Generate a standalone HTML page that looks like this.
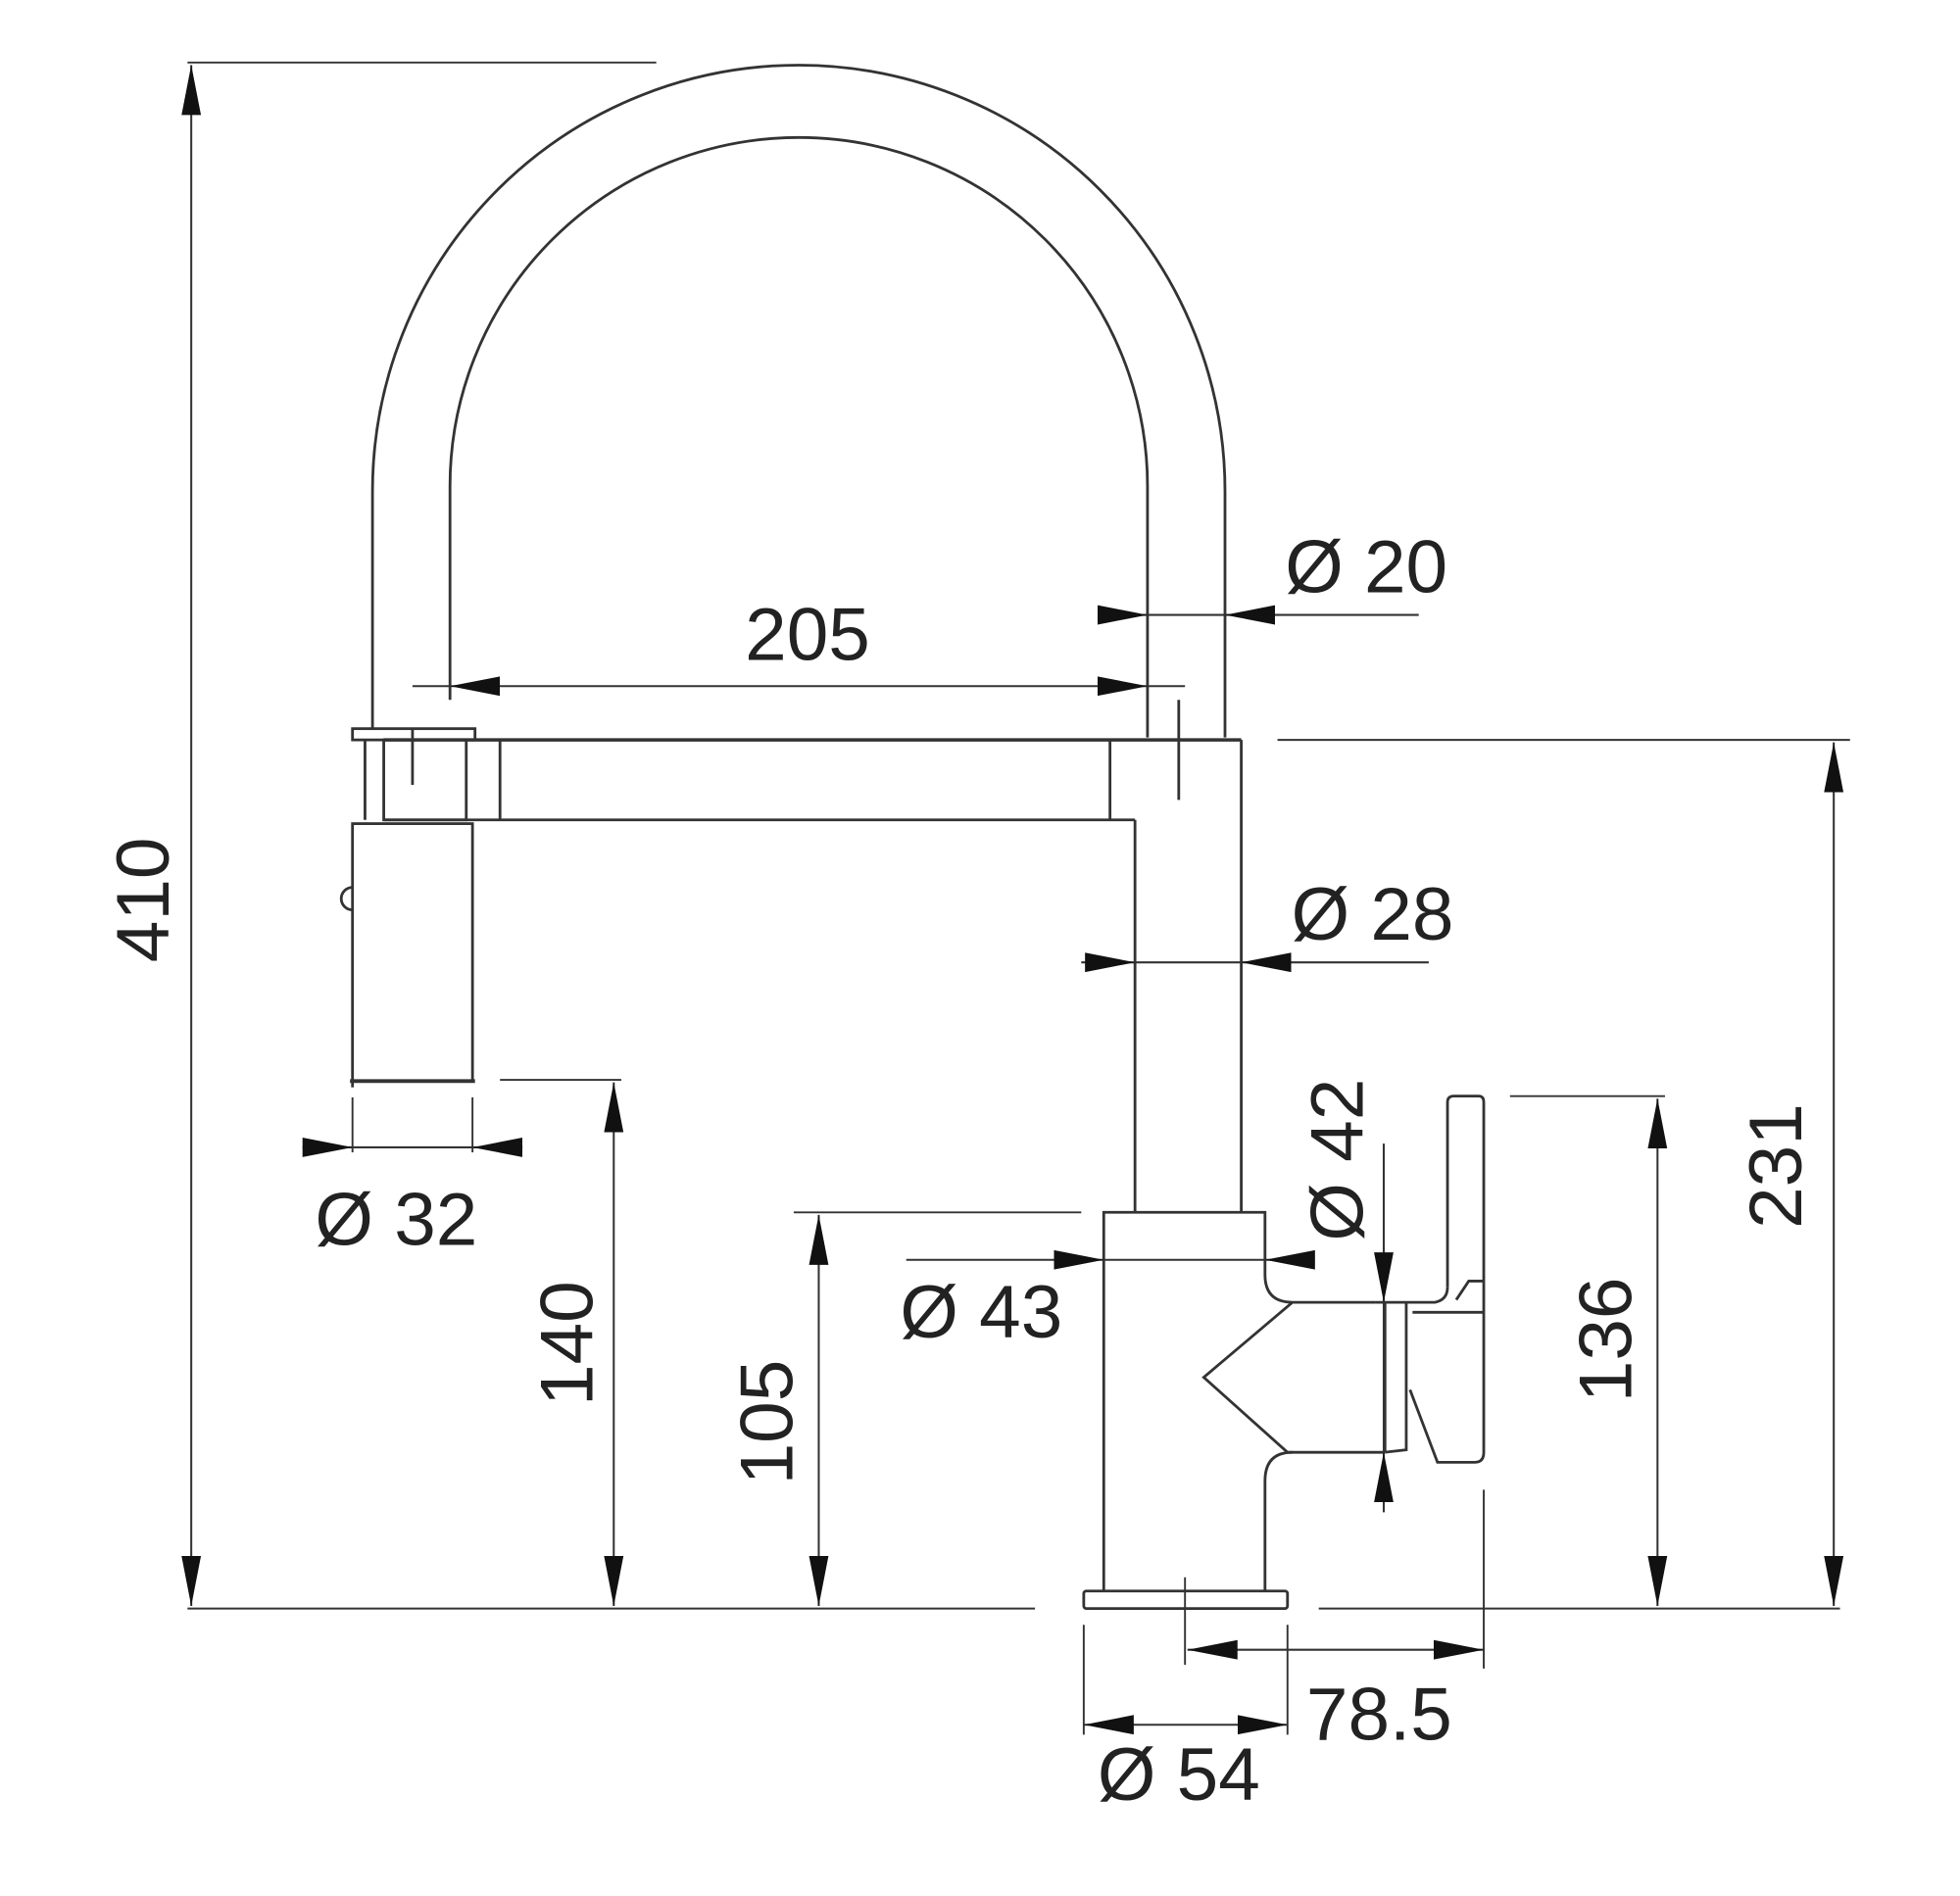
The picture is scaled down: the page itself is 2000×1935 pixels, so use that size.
<!DOCTYPE html>
<html><head><meta charset="utf-8"><style>
html,body{margin:0;padding:0;background:#fff;}
svg{display:block;}
text{font-family:"Liberation Sans",sans-serif;font-size:60px;fill:#222;}
</style></head><body>
<svg width="2000" height="1935" viewBox="0 0 1568 1517" xmlns="http://www.w3.org/2000/svg">
<defs>
<marker id="a" markerUnits="userSpaceOnUse" markerWidth="40" markerHeight="16" refX="36" refY="7" orient="auto-start-reverse" viewBox="0 0 36 14">
<path d="M0,0 L36,7 L0,14 Z" fill="#111"/></marker>
</defs>
<g fill="none" stroke="#333" stroke-width="2.2">
<!-- arc outer & inner -->
<path d="M298,583 L298,393 A341,341 0 0 1 980,393 L980,590"/>
<path d="M360,560 L360,389 A279,279 0 0 1 918,389 L918,590"/>
<!-- spout bar -->
<path d="M307,592 L993,592" stroke-width="2.8"/>
<path d="M307,656 L908,656"/>
<rect x="282" y="583" width="98" height="9"/>
<rect x="307" y="592" width="66" height="64"/>
<line x1="292" y1="592" x2="292" y2="656"/>
<line x1="400" y1="592" x2="400" y2="656"/>
<line x1="888" y1="592" x2="888" y2="656"/>
<line x1="943" y1="560" x2="943" y2="640"/>
<line x1="330" y1="583" x2="330" y2="628"/>
<!-- pull-out head -->
<rect x="282" y="659" width="96" height="206"/>
<path d="M282,870 L282,865" />
<path d="M282,710 A9,9 0 0 0 282,728"/>
<line x1="280" y1="865" x2="380" y2="865" stroke-width="3"/>
<!-- body -->
<line x1="908" y1="656" x2="908" y2="970"/>
<line x1="993" y1="592" x2="993" y2="970"/>
<path d="M883,1272 L883,970 L1012,970 L1012,1020 Q1012,1042 1034,1042 L1100,1042"/>
<path d="M1034,1042 L963,1102 L1030,1162 L1108,1162"/>
<path d="M1012,1272 L1012,1185 Q1012,1162 1034,1162"/>
<rect x="867" y="1273" width="163" height="14" rx="2"/>
<!-- handle -->
<path d="M1158,1030 L1158,882 Q1158,877 1163,877 L1183,877 Q1187,877 1187,882 L1187,1162 Q1187,1170 1180,1170 L1150,1170 L1128,1112"/>
<path d="M1158,1030 Q1158,1040 1148,1042 L1100,1042"/>
<path d="M1125,1043 L1125,1160 L1108,1162"/>
<path d="M1108,1043 L1108,1162"/>
<path d="M1130,1050 L1187,1050 M1165,1040 L1175,1025 L1187,1025"/>
<!-- extension lines -->
<line x1="150" y1="50" x2="525" y2="50" stroke-width="1.5"/>
<line x1="150" y1="1287" x2="828" y2="1287" stroke-width="1.5"/>
<line x1="1055" y1="1287" x2="1472" y2="1287" stroke-width="1.5"/>
<line x1="1022" y1="592" x2="1480" y2="592" stroke-width="1.5"/>
<line x1="400" y1="864" x2="497" y2="864" stroke-width="1.5"/>
<line x1="635" y1="970" x2="865" y2="970" stroke-width="1.5"/>
<line x1="1208" y1="877" x2="1332" y2="877" stroke-width="1.5"/>
<line x1="282" y1="878" x2="282" y2="922" stroke-width="1.5"/>
<line x1="378" y1="878" x2="378" y2="922" stroke-width="1.5"/>
<line x1="948" y1="1262" x2="948" y2="1332" stroke-width="1.5"/>
<line x1="1187" y1="1192" x2="1187" y2="1335" stroke-width="1.5"/>
<line x1="867" y1="1300" x2="867" y2="1388" stroke-width="1.5"/>
<line x1="1030" y1="1300" x2="1030" y2="1388" stroke-width="1.5"/>
<!-- dimension lines -->
<g stroke-width="1.6">
<line x1="153" y1="52" x2="153" y2="1285" marker-start="url(#a)" marker-end="url(#a)"/>
<line x1="360" y1="549" x2="918" y2="549" marker-start="url(#a)" marker-end="url(#a)"/>
<line x1="330" y1="549" x2="360" y2="549"/>
<line x1="918" y1="549" x2="948" y2="549"/>
<line x1="880" y1="492" x2="918" y2="492" marker-end="url(#a)"/>
<line x1="1135" y1="492" x2="980" y2="492" marker-end="url(#a)"/>
<line x1="918" y1="492" x2="980" y2="492"/>
<line x1="865" y1="770" x2="908" y2="770" marker-end="url(#a)"/>
<line x1="1143" y1="770" x2="993" y2="770" marker-end="url(#a)"/>
<line x1="908" y1="770" x2="993" y2="770"/>
<line x1="242" y1="918" x2="282" y2="918" marker-end="url(#a)"/>
<line x1="418" y1="918" x2="378" y2="918" marker-end="url(#a)"/>
<line x1="282" y1="918" x2="378" y2="918"/>
<line x1="491" y1="866" x2="491" y2="1285" marker-start="url(#a)" marker-end="url(#a)"/>
<line x1="655" y1="972" x2="655" y2="1285" marker-start="url(#a)" marker-end="url(#a)"/>
<line x1="725" y1="1008" x2="883" y2="1008" marker-end="url(#a)"/>
<line x1="1050" y1="1008" x2="1012" y2="1008" marker-end="url(#a)"/>
<line x1="883" y1="1008" x2="1012" y2="1008"/>
<line x1="1107" y1="915" x2="1107" y2="1042" marker-end="url(#a)"/>
<line x1="1107" y1="1210" x2="1107" y2="1162" marker-end="url(#a)"/>
<line x1="1107" y1="1042" x2="1107" y2="1162"/>
<line x1="1326" y1="879" x2="1326" y2="1285" marker-start="url(#a)" marker-end="url(#a)"/>
<line x1="1467" y1="594" x2="1467" y2="1285" marker-start="url(#a)" marker-end="url(#a)"/>
<line x1="950" y1="1320" x2="1187" y2="1320" marker-start="url(#a)" marker-end="url(#a)"/>
<line x1="867" y1="1380" x2="1030" y2="1380" marker-start="url(#a)" marker-end="url(#a)"/>
</g>
</g>
<text x="1028" y="474">Ø 20</text>
<text x="646" y="528" text-anchor="middle">205</text>
<text x="1033" y="752">Ø 28</text>
<text x="252" y="996">Ø 32</text>
<text x="720" y="1070">Ø 43</text>
<text x="1045" y="1392">78.5</text>
<text x="878" y="1440">Ø 54</text>
<text transform="translate(135,720) rotate(-90)" text-anchor="middle">410</text>
<text transform="translate(474,1075) rotate(-90)" text-anchor="middle">140</text>
<text transform="translate(634,1138) rotate(-90)" text-anchor="middle">105</text>
<text transform="translate(1090,928) rotate(-90)" text-anchor="middle">Ø 42</text>
<text transform="translate(1305,1072) rotate(-90)" text-anchor="middle">136</text>
<text transform="translate(1441,933) rotate(-90)" text-anchor="middle">231</text>
</svg>
</body></html>
